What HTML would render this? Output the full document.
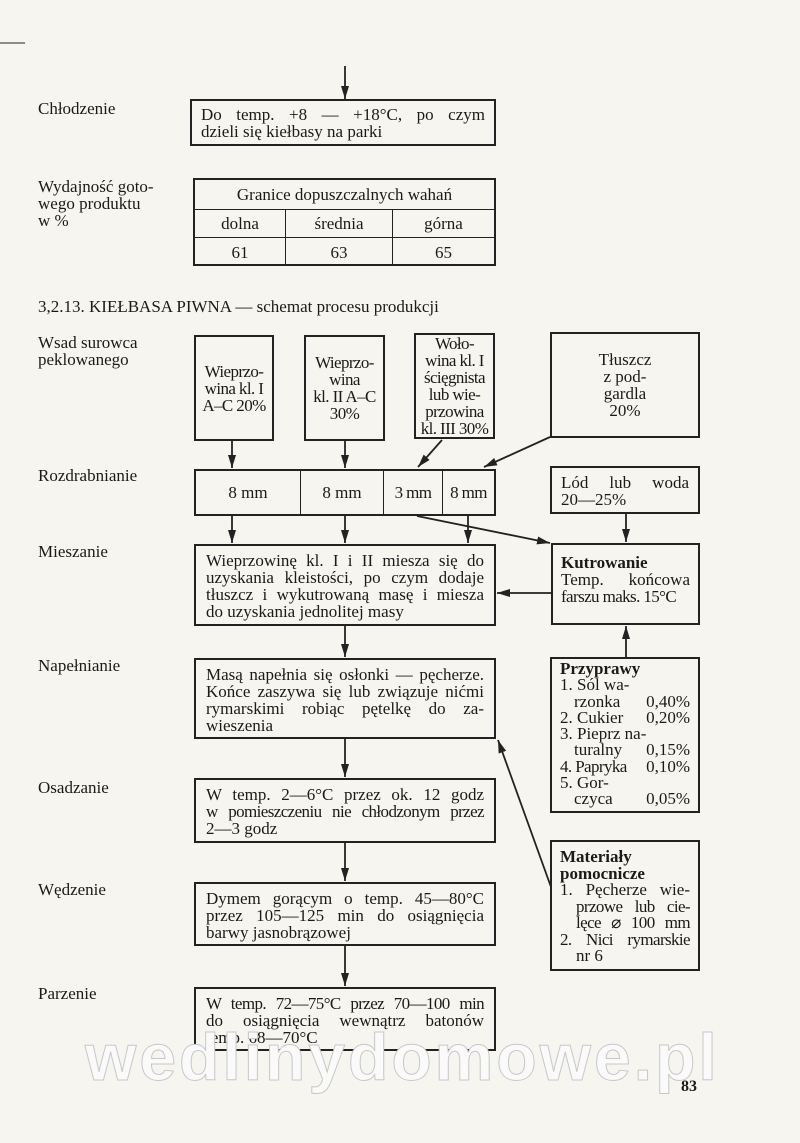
<!DOCTYPE html>
<html><head><meta charset="utf-8"><style>
body{margin:0;width:800px;height:1143px;background:#f7f5ef;position:relative;overflow:hidden;font-family:"Liberation Serif",serif;color:#1a1a1a;font-size:17px}
.a{position:absolute}
.b{position:absolute;border:2px solid #222;box-sizing:border-box}
.l{position:absolute;left:38px;line-height:17px}
.t{line-height:17px}
.t div{text-align:justify;text-align-last:justify;white-space:nowrap}
.t div.e{text-align-last:left}
.c{display:flex;align-items:center;justify-content:center;text-align:center;line-height:17px}
.n{letter-spacing:-0.6px;white-space:nowrap}
</style></head><body>
<svg class="a" style="left:0;top:0" width="800" height="1143">
<defs><marker id="m" markerWidth="14" markerHeight="10" refX="13" refY="4" orient="auto" markerUnits="userSpaceOnUse"><path d="M0,0 L13,4 L0,8 Z" fill="#222"/></marker></defs>
<g stroke="#222" stroke-width="1.8" fill="none">
<line x1="0" y1="43" x2="25" y2="43" stroke-width="1"/>
<line x1="345" y1="66" x2="345" y2="99" marker-end="url(#m)"/>
<line x1="232" y1="440" x2="232" y2="468" marker-end="url(#m)"/>
<line x1="345" y1="440" x2="345" y2="468" marker-end="url(#m)"/>
<line x1="442" y1="440" x2="418" y2="467" marker-end="url(#m)"/>
<line x1="550" y1="437" x2="484" y2="467" marker-end="url(#m)"/>
<line x1="232" y1="515" x2="232" y2="543" marker-end="url(#m)"/>
<line x1="345" y1="515" x2="345" y2="543" marker-end="url(#m)"/>
<line x1="468" y1="515" x2="468" y2="543" marker-end="url(#m)"/>
<line x1="626" y1="513" x2="626" y2="542" marker-end="url(#m)"/>
<line x1="417" y1="516" x2="550" y2="543" marker-end="url(#m)"/>
<line x1="551" y1="593" x2="497" y2="593" marker-end="url(#m)"/>
<line x1="626" y1="657" x2="626" y2="626" marker-end="url(#m)"/>
<line x1="345" y1="625" x2="345" y2="657" marker-end="url(#m)"/>
<line x1="345" y1="738" x2="345" y2="777" marker-end="url(#m)"/>
<line x1="345" y1="842" x2="345" y2="881" marker-end="url(#m)"/>
<line x1="345" y1="945" x2="345" y2="986" marker-end="url(#m)"/>
<line x1="551" y1="887" x2="498" y2="740" marker-end="url(#m)"/>
</g></svg>

<div class="l" style="top:100px">Chłodzenie</div>
<div class="b t" style="left:190px;top:99px;width:306px;height:47px;padding:5px 9px"><div>Do temp. +8 — +18°C, po czym</div><div class="e">dzieli się kiełbasy na parki</div></div>

<div class="l" style="top:178px">Wydajność goto-<br>wego produktu<br>w %</div>
<div class="b" style="left:193px;top:178px;width:303px;height:88px">
<div class="c" style="height:29px;border-bottom:1.5px solid #222">Granice dopuszczalnych wahań</div>
<div style="display:flex;height:27px;border-bottom:1.5px solid #222">
<div class="c" style="width:90px;border-right:1.5px solid #222">dolna</div><div class="c" style="width:106px;border-right:1.5px solid #222">średnia</div><div class="c" style="flex:1">górna</div></div>
<div style="display:flex;height:28px">
<div class="c" style="width:90px;border-right:1.5px solid #222">61</div><div class="c" style="width:106px;border-right:1.5px solid #222">63</div><div class="c" style="flex:1">65</div></div>
</div>

<div class="a" style="left:38px;top:297px">3,2.13. KIEŁBASA PIWNA — schemat procesu produkcji</div>

<div class="l" style="top:334px">Wsad surowca<br>peklowanego</div>
<div class="b c n" style="left:194px;top:335px;width:80px;height:106px">Wieprzo-<br>wina kl. I<br>A–C 20%</div>
<div class="b c n" style="left:304px;top:335px;width:81px;height:106px">Wieprzo-<br>wina<br>kl. II A–C<br>30%</div>
<div class="b c n" style="left:414px;top:333px;width:81px;height:106px">Woło-<br>wina kl. I<br>ścięgnista<br>lub wie-<br>przowina<br>kl. III 30%</div>
<div class="b c" style="left:550px;top:332px;width:150px;height:106px">Tłuszcz<br>z pod-<br>gardla<br>20%</div>

<div class="l" style="top:467px">Rozdrabnianie</div>
<div class="b" style="left:194px;top:469px;width:302px;height:47px;display:flex">
<div class="c" style="width:104px;border-right:1.5px solid #222">8 mm</div><div class="c" style="width:82px;border-right:1.5px solid #222">8 mm</div><div class="c n" style="width:58px;border-right:1.5px solid #222">3 mm</div><div class="c n" style="flex:1">8 mm</div></div>
<div class="b t" style="left:550px;top:466px;width:150px;height:48px;padding:6px 9px"><div>Lód lub woda</div><div class="e">20—25%</div></div>

<div class="l" style="top:543px">Mieszanie</div>
<div class="b t" style="left:194px;top:544px;width:302px;height:82px;padding:6px 10px"><div>Wieprzowinę kl. I i II miesza się do</div><div>uzyskania kleistości, po czym dodaje</div><div>tłuszcz i wykutrowaną masę i miesza</div><div class="e">do uzyskania jednolitej masy</div></div>
<div class="b t" style="left:551px;top:543px;width:149px;height:82px;padding:9px 8px">
<div class="e"><b>Kutrowanie</b></div><div>Temp. końcowa</div><div class="e n">farszu maks. 15°C</div></div>

<div class="l" style="top:657px">Napełnianie</div>
<div class="b t" style="left:194px;top:658px;width:302px;height:81px;padding:6px 10px"><div>Masą napełnia się osłonki — pęcherze.</div><div>Końce zaszywa się lub związuje nićmi</div><div>rymarskimi robiąc pętelkę do za-</div><div class="e">wieszenia</div></div>
<div class="b" style="left:550px;top:657px;width:150px;height:156px;padding:2px 8px;line-height:16.3px">
<b>Przyprawy</b><br>1. Sól wa-<br><span style="display:flex;justify-content:space-between;padding-left:14px"><span>rzonka</span><span>0,40%</span></span>
<span style="display:flex;justify-content:space-between"><span>2. Cukier</span><span>0,20%</span></span>3. Pieprz na-<br>
<span style="display:flex;justify-content:space-between;padding-left:14px"><span>turalny</span><span>0,15%</span></span>
<span style="display:flex;justify-content:space-between"><span class="n">4. Papryka</span><span>0,10%</span></span>5. Gor-<br>
<span style="display:flex;justify-content:space-between;padding-left:14px"><span>czyca</span><span>0,05%</span></span></div>

<div class="l" style="top:779px">Osadzanie</div>
<div class="b t" style="left:194px;top:778px;width:302px;height:65px;padding:6px 10px"><div>W temp. 2—6°C przez ok. 12 godz</div><div class="n">w pomieszczeniu nie chłodzonym przez</div><div class="e">2—3 godz</div></div>

<div class="b t" style="left:550px;top:840px;width:150px;height:131px;padding:7px 8px;line-height:16.5px">
<div class="e"><b>Materiały</b></div><div class="e"><b>pomocnicze</b></div>
<div>1. Pęcherze wie-</div><div style="padding-left:16px" class="n">przowe lub cie-</div><div style="padding-left:16px" class="n">lęce ⌀ 100 mm</div><div class="n">2. Nici rymarskie</div><div class="e" style="padding-left:16px">nr 6</div></div>

<div class="l" style="top:881px">Wędzenie</div>
<div class="b t" style="left:194px;top:882px;width:302px;height:64px;padding:6px 10px"><div>Dymem gorącym o temp. 45—80°C</div><div>przez 105—125 min do osiągnięcia</div><div class="e">barwy jasnobrązowej</div></div>

<div class="l" style="top:985px">Parzenie</div>
<div class="b t" style="left:194px;top:987px;width:302px;height:64px;padding:6px 10px"><div class="n">W temp. 72—75°C przez 70—100 min</div><div>do osiągnięcia wewnątrz batonów</div><div class="e">temp. 68—70°C</div></div>

<div class="a" style="left:85px;top:1022px;font-family:'Liberation Sans',sans-serif;font-weight:bold;font-size:66px;line-height:70px;color:#fafafa;letter-spacing:3px;-webkit-text-stroke:1px #c8c8c8">wedlinydomowe.pl</div>
<div class="a" style="left:681px;top:1078px;font-size:16px;font-weight:bold">83</div>
</body></html>
